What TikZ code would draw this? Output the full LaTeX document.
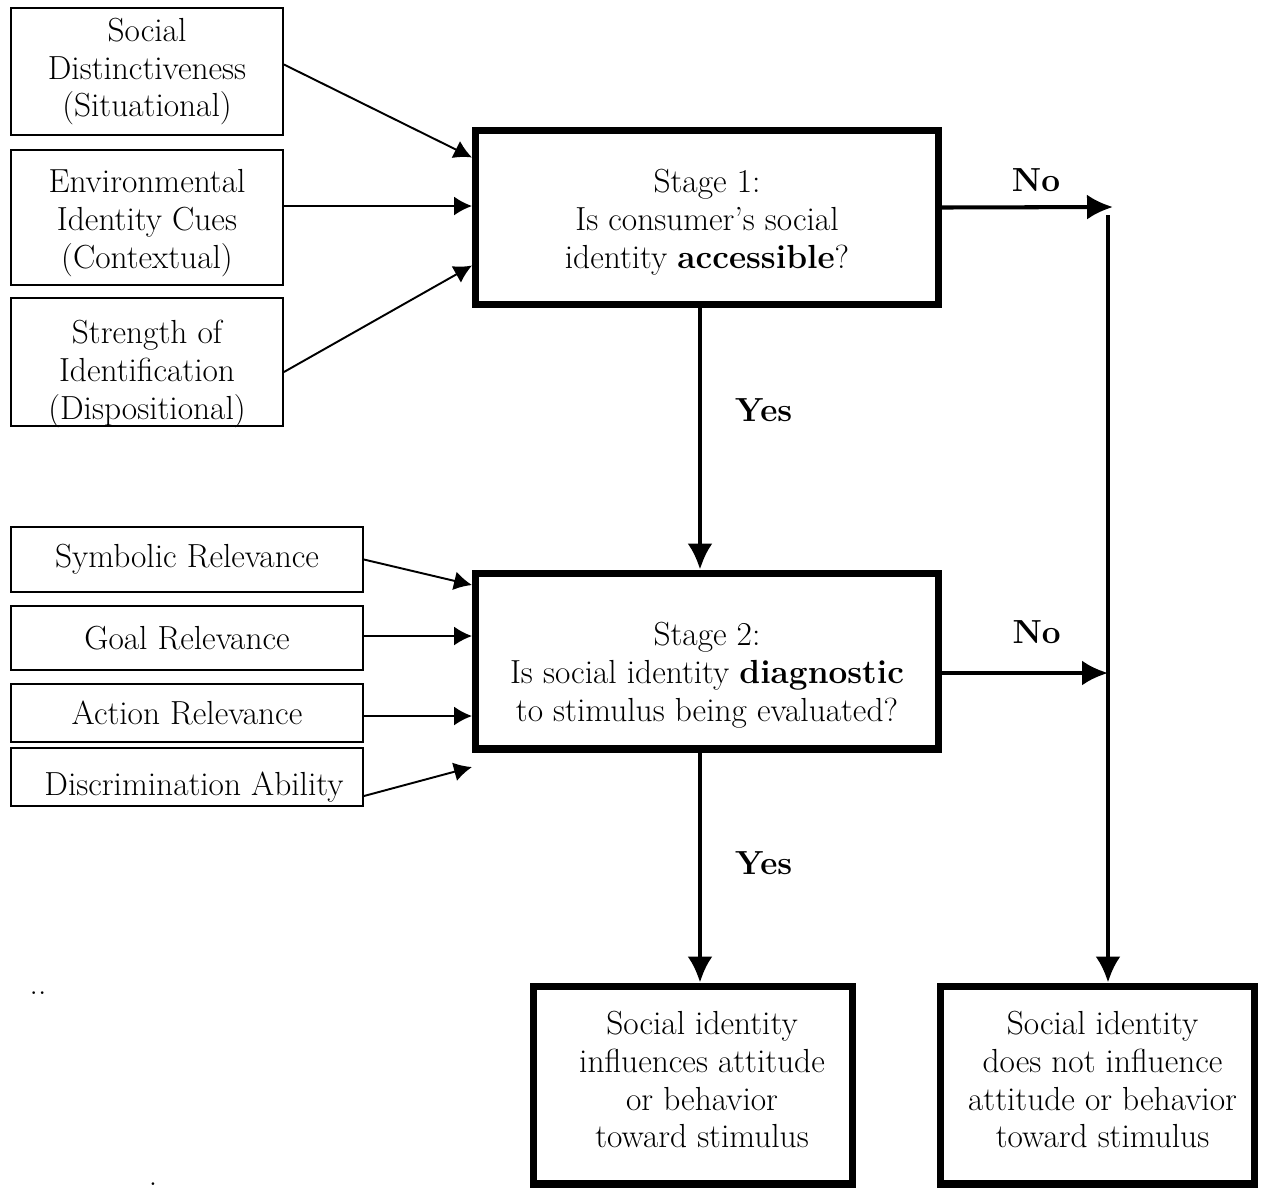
\documentclass[tikz,border=0pt]{standalone}
\usetikzlibrary{arrows.meta, positioning}

\begin{document}
\begin{tikzpicture}[x=0.02cm, y=-0.02cm,
    font=\fontsize{19}{21.6}\selectfont,
    factor/.style={draw, line width=1.1pt, align=center, inner sep=0pt},
    stage/.style={draw, line width=4pt, minimum width=9.26cm},
    outcome/.style={draw, line width=4pt, minimum height=3.96cm},
    boxtext/.style={align=center, inner sep=0pt},
    feed/.style={-{Latex[length=0.36cm, width=0.38cm]}, line width=1.1pt},
    flow/.style={-{Latex[length=0.52cm, width=0.5cm]}, line width=2.3pt},
    answer/.style={font=\fontsize{19}{21.6}\selectfont\bfseries, inner sep=0pt}]
\useasboundingbox (0,0) rectangle (1266,1188);

% antecedents of stage 1
\node[factor, minimum width=5.44cm, minimum height=2.54cm] (distinct) at (147,71.5) {Social\\Distinctiveness\\(Situational)};
\node[factor, minimum width=5.44cm, minimum height=2.7cm] (env-cues) at (147,217.5) {};
\node[boxtext] (env-cues-text) at ([yshift=-0.12cm]env-cues.center) {Environmental\\Identity Cues\\(Contextual)};
\node[factor, minimum width=5.44cm, minimum height=2.56cm] (id-strength) at (147,362) {};
\node[boxtext] (id-strength-text) at ([yshift=-0.24cm]id-strength.center) {Strength of\\Identification\\(Dispositional)};

% antecedents of stage 2
\node[factor, minimum width=7.04cm, minimum height=1.3cm] (sym-rel) at (187,559.5) {Symbolic Relevance};
\node[factor, minimum width=7.04cm, minimum height=1.28cm] (goal-rel) at (187,638) {Goal Relevance};
\node[factor, minimum width=7.04cm, minimum height=1.16cm] (action-rel) at (187,713) {Action Relevance};
\node[factor, minimum width=7.04cm, minimum height=1.16cm] (discrim) at (187,777) {};
\node[boxtext] (discrim-text) at ([xshift=0.14cm, yshift=-0.2cm]discrim.center) {Discrimination Ability};

% the two stages and the outcomes
\node[stage, minimum height=3.48cm] (stage1) at (707,217.5) {};
\node[boxtext] (stage1-text) at ([yshift=-0.1cm]stage1.center) {Stage 1:\\Is consumer’s social\\identity \textbf{accessible}?};
\node[stage, minimum height=3.52cm] (stage2) at (707,661) {};
\node[boxtext] (stage2-text) at ([yshift=-0.28cm]stage2.center) {Stage 2:\\Is social identity \textbf{diagnostic}\\to stimulus being evaluated?};
\node[outcome, minimum width=6.38cm] (infl) at (693,1085) {};
\node[boxtext] (infl-text) at ([xshift=0.18cm, yshift=0.11cm]infl.center) {Social identity\\influences attitude\\or behavior\\toward stimulus};
\node[outcome, minimum width=6.28cm] (no-infl) at (1097.5,1085) {};
\node[boxtext] (no-infl-text) at ([xshift=0.1cm, yshift=0.11cm]no-infl.center) {Social identity\\does not influence\\attitude or behavior\\toward stimulus};

\node[anchor=base, inner sep=0pt] (dots) at (38,994) {..};
\node[anchor=base, inner sep=0pt] (dot) at (153,1185) {.};

\coordinate (disc-end) at (472,767);
\coordinate (no-end) at (1113,207);
\coordinate (no-turn) at (1108,215);

% thin arrows into the stages
\draw[feed] ([yshift=0.14cm]distinct.east) -- ([yshift=1.2cm]stage1.west);
\draw[feed] ([yshift=0.23cm]env-cues.east) -- ([yshift=0.23cm]stage1.west);
\draw[feed] ([yshift=-0.2cm]id-strength.east) -- ([yshift=-0.96cm]stage1.west);
\draw[feed] (sym-rel.east) -- ([yshift=1.52cm]stage2.west);
\draw[feed] ([yshift=0.04cm]goal-rel.east) -- ([yshift=0.5cm]stage2.west);
\draw[feed] ([yshift=-0.06cm]action-rel.east) -- ([yshift=-1.1cm]stage2.west);
\draw[feed] ([yshift=-0.38cm]discrim.east) -- (disc-end);

% yes / no paths
\draw[flow] ([xshift=-0.14cm]stage1.south) -- ([xshift=-0.14cm]stage2.north)
    node[answer, pos=0.39, right=0.66cm] {Yes};
\draw[flow] ([xshift=-0.14cm]stage2.south) -- ([xshift=-0.14cm]stage2.south |- infl.north)
    node[answer, pos=0.48, right=0.66cm] {Yes};
\draw[flow] ([yshift=0.2cm]stage1.east) -- (no-end)
    node[answer, pos=0.55, above=0.27cm] {No};
\draw[flow] ([yshift=-0.24cm]stage2.east) -- ([yshift=-0.24cm]stage2.east -| no-turn)
    node[answer, pos=0.57, above=0.55cm] {No};
\draw[flow] (no-turn) -- (no-turn |- no-infl.north);

\end{tikzpicture}
\end{document}
